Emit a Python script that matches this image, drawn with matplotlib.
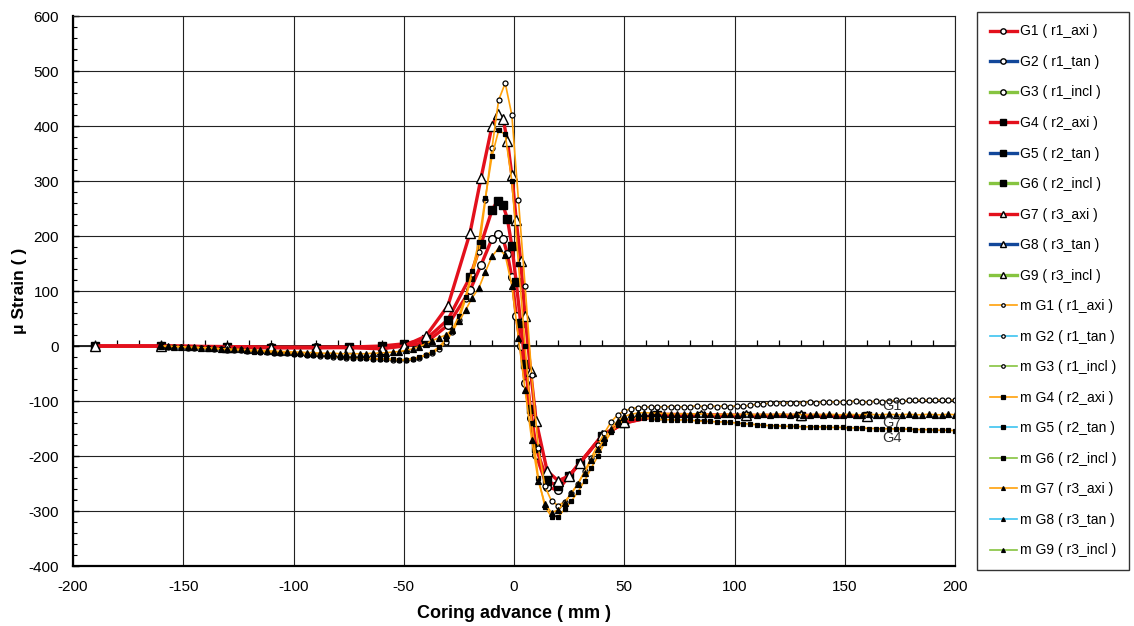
import matplotlib
matplotlib.use("Agg")
from matplotlib import pyplot as plt
from matplotlib.ticker import MultipleLocator

plt.rcParams['font.family'] = ['Liberation Sans', 'DejaVu Sans']
plt.rcParams['axes.unicode_minus'] = False

# model curves (sparse points)
x_model = [-190, -160, -130, -110, -90, -75, -60, -50, -40, -30, -20, -15, -10, -7.5, -5, -3, -1,
           1, 3, 5, 7.5, 10, 15, 20, 25, 30, 40, 50, 65, 85, 105, 130, 160]
g1 = [0, 0, -1, -2, -2, -2, -2, 0, 6, 38, 101, 147, 195, 203, 195, 167, 125,
      55, 0, -67, -130, -198, -256, -262, -236, -212, -163, -140, -127, -127, -127, -127, -127]
g4 = [0, 0, -2, -3, -3, -2, 0, 4, 12, 48, 125, 185, 247, 264, 256, 231, 182,
      116, 42, -33, -115, -185, -245, -255, -236, -212, -163, -140, -126, -127, -127, -127, -127]
g7 = [0, 0, -2, -3, -3, -3, -5, 0, 18, 73, 205, 305, 400, 422, 413, 373, 311,
      229, 155, 55, -45, -136, -227, -245, -236, -212, -162, -138, -124, -125, -126, -126, -127]

# measured curves, every 3 mm from -160 to 200
x_meas = list(range(-160, 201, 3))
m_g1 = [0, -1, -2, -2, -3, -3, -4, -4, -5, -6,
        -7, -7, -8, -9, -9, -10, -11, -12, -12, -13,
        -14, -15, -16, -17, -18, -19, -20, -20, -21, -21,
        -22, -22, -23, -24, -24, -25, -26, -26, -24, -21,
        -17, -12, -6, 8, 25, 48, 85, 131, 171, 265,
        360, 447, 478, 420, 265, 110, -53, -185, -255, -282,
        -290, -283, -268, -250, -228, -203, -180, -158, -138, -125,
        -118, -114, -112, -111, -111, -110, -111, -110, -110, -111,
        -110, -109, -110, -109, -110, -109, -110, -109, -109, -108,
        -106, -105, -104, -104, -103, -104, -103, -103, -102, -103,
        -102, -101, -102, -101, -101, -100, -101, -102, -100, -101,
        -100, -99, -100, -99, -99, -98, -99, -98, -98, -99,
        -98]
m_g4 = [0, -1, -2, -2, -3, -4, -4, -5, -5, -6,
        -7, -8, -8, -9, -10, -10, -11, -12, -13, -13,
        -14, -15, -16, -17, -17, -18, -19, -20, -20, -21,
        -21, -22, -23, -23, -24, -24, -25, -25, -23, -20,
        -16, -10, -2, 12, 30, 55, 90, 136, 190, 270,
        345, 392, 385, 300, 150, 0, -140, -240, -292, -310,
        -310, -297, -282, -265, -245, -222, -200, -176, -157, -143,
        -135, -131, -130, -130, -132, -133, -134, -134, -135, -134,
        -135, -136, -137, -137, -138, -138, -139, -140, -141, -142,
        -143, -144, -145, -145, -146, -146, -146, -147, -147, -147,
        -147, -148, -148, -148, -149, -149, -149, -150, -150, -151,
        -150, -151, -151, -151, -152, -152, -152, -153, -153, -153,
        -154]
m_g7 = [0, 0, -1, -1, -2, -2, -3, -3, -4, -5,
        -5, -6, -6, -7, -8, -8, -9, -9, -10, -10,
        -11, -11, -12, -12, -13, -13, -13, -14, -14, -14,
        -14, -14, -13, -13, -12, -11, -10, -8, -5, -1,
        4, 10, 15, 20, 30, 45, 65, 88, 105, 135,
        163, 178, 165, 110, 15, -80, -170, -245, -287, -303,
        -298, -285, -268, -250, -230, -208, -188, -168, -150, -136,
        -128, -124, -122, -121, -122, -122, -123, -123, -124, -123,
        -124, -123, -124, -124, -125, -124, -124, -125, -124, -124,
        -125, -124, -125, -124, -124, -125, -124, -125, -125, -124,
        -125, -124, -125, -125, -124, -125, -125, -124, -125, -125,
        -124, -125, -125, -124, -125, -125, -124, -125, -125, -124,
        -125]

RED = '#e3101c'
BLUE = '#12479a'
GREEN = '#86c440'
ORANGE = '#ffa10a'
LBLUE = '#3dc4f0'

fig = plt.figure(figsize=(11.34, 6.26), dpi=100)
ax = fig.add_axes([0.0644, 0.0958, 0.7778, 0.8786])

empty = []
model_style = dict(lw=2.4, markeredgecolor='black', markeredgewidth=1.0)
ax.plot(x_model, g1, color=RED, marker='o', ms=5.5, mfc='white', label='G1 ( r1_axi )', **model_style)
ax.plot(empty, empty, color=BLUE, marker='o', ms=5.5, mfc='white', label='G2 ( r1_tan )', **model_style)
ax.plot(empty, empty, color=GREEN, marker='o', ms=5.5, mfc='white', label='G3 ( r1_incl )', **model_style)
ax.plot(x_model, g4, color=RED, marker='s', ms=5.5, mfc='black', label='G4 ( r2_axi )', **model_style)
ax.plot(empty, empty, color=BLUE, marker='s', ms=5.5, mfc='black', label='G5 ( r2_tan )', **model_style)
ax.plot(empty, empty, color=GREEN, marker='s', ms=5.5, mfc='black', label='G6 ( r2_incl )', **model_style)
ax.plot(x_model, g7, color=RED, marker='^', ms=6.5, mfc='white', label='G7 ( r3_axi )', **model_style)
ax.plot(empty, empty, color=BLUE, marker='^', ms=6.5, mfc='white', label='G8 ( r3_tan )', **model_style)
ax.plot(empty, empty, color=GREEN, marker='^', ms=6.5, mfc='white', label='G9 ( r3_incl )', **model_style)

meas_style = dict(lw=1.2, markeredgecolor='black', markeredgewidth=0.9)
ax.plot(x_meas, m_g1, color=ORANGE, marker='o', ms=3.6, mfc='white', label='m G1 ( r1_axi )', **meas_style)
ax.plot(empty, empty, color=LBLUE, marker='o', ms=3.6, mfc='white', label='m G2 ( r1_tan )', **meas_style)
ax.plot(empty, empty, color=GREEN, marker='o', ms=3.6, mfc='white', label='m G3 ( r1_incl )', **meas_style)
ax.plot(x_meas, m_g4, color=ORANGE, marker='s', ms=3.4, mfc='black', label='m G4 ( r2_axi )', **meas_style)
ax.plot(empty, empty, color=LBLUE, marker='s', ms=3.4, mfc='black', label='m G5 ( r2_tan )', **meas_style)
ax.plot(empty, empty, color=GREEN, marker='s', ms=3.4, mfc='black', label='m G6 ( r2_incl )', **meas_style)
ax.plot(x_meas, m_g7, color=ORANGE, marker='^', ms=4.0, mfc='black', label='m G7 ( r3_axi )', **meas_style)
ax.plot(empty, empty, color=LBLUE, marker='^', ms=4.0, mfc='black', label='m G8 ( r3_tan )', **meas_style)
ax.plot(empty, empty, color=GREEN, marker='^', ms=4.0, mfc='black', label='m G9 ( r3_incl )', **meas_style)

# series names at the end of the model curves
for name, ys, dy in [('G1', g1, 7), ('G7', g7, -5), ('G4', g4, -16)]:
    ax.annotate(name, xy=(x_model[-1], ys[-1]), xytext=(11, dy), textcoords='offset points',
                fontsize=10.5, color='#333333', va='center', ha='left', zorder=5)

ax.set_xlim(-200, 200)
ax.set_ylim(-400, 600)
ax.xaxis.set_major_locator(MultipleLocator(50))
ax.yaxis.set_major_locator(MultipleLocator(100))
ax.yaxis.set_minor_locator(MultipleLocator(20))
ax.grid(True, which='major', color='#222222', lw=0.8)
ax.set_axisbelow(True)
ax.tick_params(axis='x', length=0, labelsize=11, pad=10)
ax.tick_params(axis='y', which='major', direction='in', length=4, labelsize=11, width=1, pad=10)
ax.tick_params(axis='y', which='minor', direction='in', length=3, width=0.8)

for side in ['left', 'bottom']:
    ax.spines[side].set_linewidth(1.6)
for side in ['top', 'right']:
    ax.spines[side].set_linewidth(0.8)
    ax.spines[side].set_color('#222222')

# x axis line crossing at y = 0 with small ticks every 10 mm
zero_axis = ax.secondary_xaxis(0.4)
zero_axis.xaxis.set_major_locator(MultipleLocator(10))
zero_axis.tick_params(direction='in', length=4, width=0.9, labelbottom=False)
zero_axis.spines['bottom'].set_linewidth(1.2)

ax.set_xlabel('Coring advance ( mm )', fontsize=13, fontweight='bold', labelpad=8)
ax.set_ylabel('μ Strain ( )', fontsize=12.5, fontweight='bold', labelpad=1)

leg = ax.legend(loc='upper left', bbox_to_anchor=(0.8616, 0.981), bbox_transform=fig.transFigure,
                fontsize=10, frameon=True, fancybox=False, edgecolor='black',
                handlelength=2.0, handletextpad=0.2, labelspacing=1.19, borderpad=0.9,
                borderaxespad=0, markerscale=0.7)
leg.get_frame().set_linewidth(1.0)

fig.savefig('out.png', dpi=100)
